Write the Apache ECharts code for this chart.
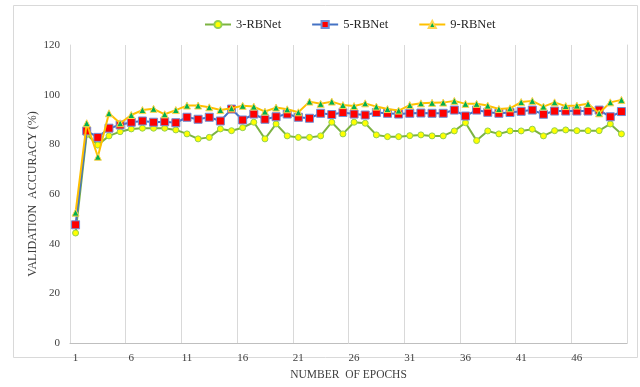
<!DOCTYPE html>
<html>
<head>
<meta charset="utf-8">
<script src="https://cdn.jsdelivr.net/npm/echarts@6/dist/echarts.min.js"></script>
<style>
html,body{margin:0;padding:0;background:#fff;}
#chart{width:640px;height:387px;}
</style>
</head>
<body>
<div id="chart"></div>
<script>
var epochs = [];
for (var i = 1; i <= 50; i++) epochs.push(String(i));

var rb3 = [44.3, 84.0, 79.7, 83.4, 85.1, 86.2, 86.5, 86.5, 86.5, 85.8,
           84.2, 82.2, 82.8, 86.2, 85.5, 86.7, 88.9, 82.2, 88.2, 83.4,
           82.8, 82.8, 83.4, 88.9, 84.2, 88.9, 88.5, 83.8, 83.1, 83.1,
           83.5, 83.8, 83.4, 83.4, 85.4, 88.7, 81.5, 85.4, 84.2, 85.4,
           85.4, 86.1, 83.4, 85.5, 85.8, 85.5, 85.5, 85.5, 88.2, 84.2];
var rb5 = [47.6, 85.4, 82.8, 86.5, 87.8, 88.9, 89.4, 88.9, 89.1, 88.7,
           90.9, 90.1, 90.9, 89.4, 94.2, 89.8, 92.2, 90.1, 91.1, 92.2,
           90.9, 90.5, 92.5, 92.0, 92.8, 92.2, 91.8, 92.8, 92.5, 92.2,
           92.5, 92.6, 92.5, 92.5, 93.8, 91.4, 93.8, 92.9, 92.5, 92.8,
           93.3, 93.8, 92.1, 93.4, 93.4, 93.4, 93.4, 93.8, 91.1, 93.2];
var rb9 = [52.5, 88.5, 75.0, 92.5, 88.5, 91.8, 93.8, 94.3, 92.1, 93.8,
           95.6, 95.6, 94.9, 93.8, 94.5, 95.5, 95.2, 93.2, 94.8, 94.1,
           92.9, 97.2, 96.3, 97.2, 95.8, 95.4, 96.5, 95.2, 94.2, 93.6,
           95.8, 96.5, 96.7, 96.8, 97.5, 96.3, 96.3, 95.6, 94.2, 94.5,
           97.0, 97.5, 95.2, 96.9, 95.4, 95.6, 96.3, 92.5, 96.9, 97.9];

var yTicks = [0, 20, 40, 60, 80, 100, 120];

var serif = "'Liberation Serif','Times New Roman',serif";

var chart = echarts.init(document.getElementById('chart'), null, {renderer: 'canvas'});
chart.setOption({
  backgroundColor: '#ffffff',
  animation: false,
  textStyle: {fontFamily: serif},
  graphic: [{
    type: 'rect',
    shape: {x: 13.5, y: 5.5, width: 624, height: 352},
    style: {fill: 'none', stroke: '#d9d9d9', lineWidth: 1},
    silent: true
  }],
  legend: {
    top: 13,
    left: 199,
    itemGap: 30,
    itemWidth: 26,
    itemHeight: 9,
    textStyle: {fontFamily: serif, fontSize: 12.5, color: '#262626'},
    data: ['3-RBNet', '5-RBNet', '9-RBNet']
  },
  grid: {left: 70, right: 13, top: 45, bottom: 44, outerBoundsMode: 'none'},
  xAxis: {
    type: 'category',
    data: epochs,
    boundaryGap: true,
    name: 'NUMBER  OF EPOCHS',
    nameLocation: 'middle',
    nameMoveOverlap: false,
    nameGap: 26,
    nameTextStyle: {fontFamily: serif, fontSize: 11.5, color: '#404040'},
    axisLine: {lineStyle: {color: '#bfbfbf'}},
    axisTick: {show: false},
    axisLabel: {interval: 4, fontFamily: serif, fontSize: 11, color: '#404040', margin: 10},
    splitLine: {show: true, interval: 4, lineStyle: {color: '#d9d9d9', width: 1}}
  },
  yAxis: [{
    type: 'value',
    min: yTicks[0],
    max: yTicks[yTicks.length - 1],
    interval: 20,
    name: 'VALIDATION  ACCURACY (%)',
    nameLocation: 'middle',
    nameMoveOverlap: false,
    nameGap: 31,
    nameTextStyle: {fontFamily: serif, fontSize: 12, color: '#404040'},
    axisLine: {show: true, lineStyle: {color: '#d9d9d9'}},
    axisTick: {show: false},
    splitLine: {show: false},
    axisLabel: {fontFamily: serif, fontSize: 11, color: '#404040', margin: 10}
  }, {
    type: 'value',
    position: 'right',
    min: yTicks[0],
    max: yTicks[yTicks.length - 1],
    interval: 20,
    axisLine: {show: true, lineStyle: {color: '#d9d9d9'}},
    axisTick: {show: false},
    axisLabel: {show: false},
    splitLine: {show: false}
  }],
  series: [
    {
      name: '3-RBNet', type: 'line', data: rb3,
      symbol: 'circle', symbolSize: 6, showAllSymbol: true,
      lineStyle: {color: '#7cb342', width: 2},
      itemStyle: {color: '#ffff00', borderColor: '#92d050', borderWidth: 1},
      z: 2
    },
    {
      name: '5-RBNet', type: 'line', data: rb5,
      symbol: 'rect', symbolSize: 8, showAllSymbol: true,
      lineStyle: {color: '#4472c4', width: 2},
      itemStyle: {color: '#ff0000', borderColor: '#6f8fd8', borderWidth: 1},
      z: 3
    },
    {
      name: '9-RBNet', type: 'line', data: rb9,
      symbol: 'triangle', symbolSize: 7, showAllSymbol: true,
      lineStyle: {color: '#ffc000', width: 2},
      itemStyle: {color: '#00b050', borderColor: '#ffd54f', borderWidth: 1},
      z: 4
    }
  ]
});
</script>
</body>
</html>
